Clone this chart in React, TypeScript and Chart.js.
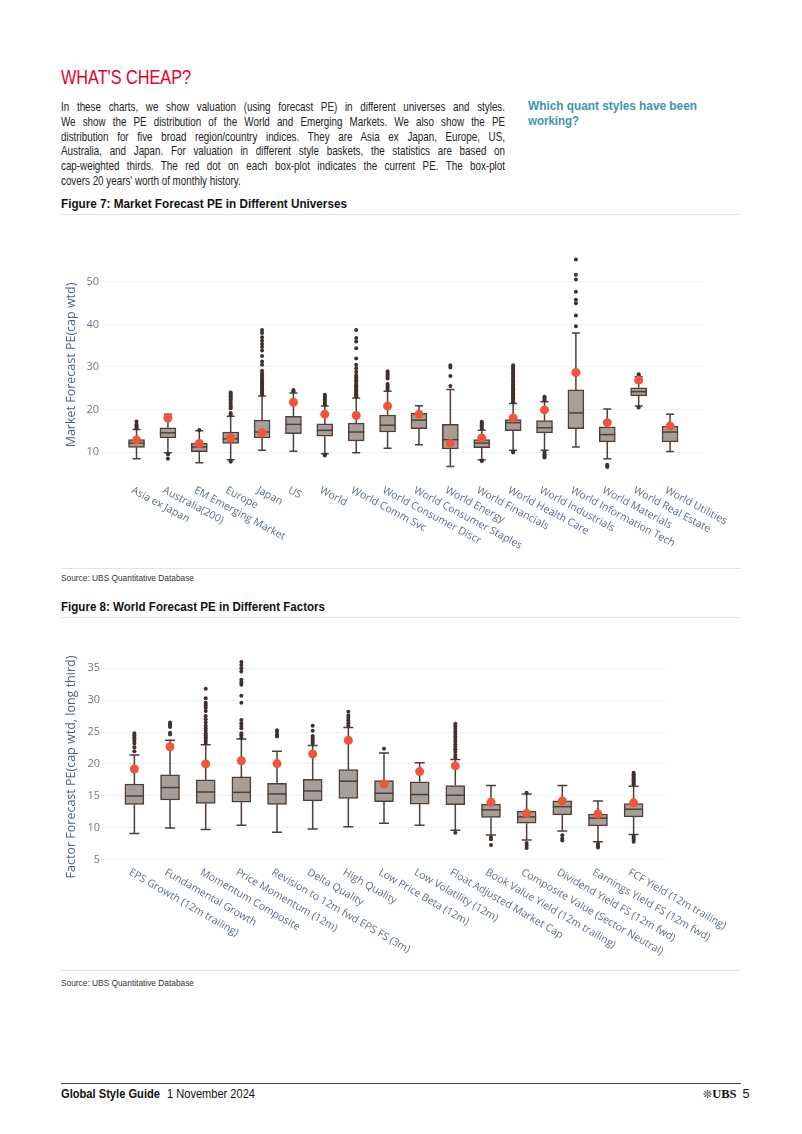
import React, { useEffect, useLayoutEffect, useRef } from 'react';
import { Chart, registerables } from 'chart.js';
Chart.register(...registerables);

// ---------- Figure 7 data ----------
const universeLabels = [
  'Asia ex Japan', 'Australia(200)', 'EM Emerging Market', 'Europe', 'Japan', 'US', 'World',
  'World Comm Svc', 'World Consumer Discr', 'World Consumer Staples', 'World Energy',
  'World Financials', 'World Health Care', 'World Industrials', 'World Information Tech',
  'World Materials', 'World Real Estate', 'World Utilities',
];
const uLow = [8.4, 9.8, 7.5, 8.2, 10.4, 10.2, 9.6, 9.8, 10.9, 11.7, 6.6, 8.2, 10.4, 10.4, 11.2, 8.4, 20.8, 10.1];
const uQ1 = [11.1, 13.3, 10.1, 12.0, 13.3, 14.3, 13.7, 12.6, 14.7, 15.5, 10.7, 11.0, 15.0, 14.5, 15.5, 12.4, 23.2, 12.4];
const uMedian = [12.1, 14.5, 11.2, 13.1, 14.7, 16.5, 15.1, 14.7, 16.3, 17.5, 12.9, 12.1, 16.9, 15.7, 19.2, 14.1, 24.2, 14.7];
const uQ3 = [12.9, 15.7, 12.1, 14.7, 17.5, 18.4, 16.6, 16.8, 18.7, 19.1, 16.5, 12.9, 17.6, 17.4, 24.6, 15.9, 25.1, 16.1];
const uHigh = [15.3, 18.9, 15.0, 18.4, 23.2, 23.9, 20.8, 22.7, 24.3, 20.9, 24.7, 15.1, 21.4, 21.8, 38.0, 20.1, 27.7, 18.9];
const uCurrent = [12.8, 18.0, 12.0, 13.3, 14.5, 21.7, 18.9, 18.6, 20.8, 18.9, 12.0, 13.3, 18.0, 19.9, 28.7, 16.9, 26.9, 16.1];
const uOutliers: number[][] = [
  [15.6, 15.9, 16.2, 16.5, 17.2],
  [9.6, 9.4, 8.4],
  [15.2],
  [18.8, 19.2, 20.3, 20.6, 20.9, 21.5, 22.0, 22.4, 22.8, 23.1, 23.4, 23.7, 24.0, 7.9, 7.7],
  [23.5, 23.8, 24.1, 24.4, 24.7, 25.0, 25.3, 25.6, 25.9, 26.2, 26.5, 26.8, 27.1, 27.5, 28.0, 28.5, 29.1, 30.5, 31.3, 32.6, 33.9, 34.7, 35.4, 36.2, 37.0, 38.0, 38.7],
  [24.3, 24.6],
  [21.2, 21.6, 22.0, 22.4, 22.8, 23.2, 23.5, 9.4, 9.2],
  [23.0, 23.3, 23.6, 23.9, 24.2, 24.5, 24.8, 25.1, 25.4, 25.7, 26.0, 26.5, 26.9, 27.3, 27.7, 28.1, 28.9, 29.7, 30.5, 32.0, 34.4, 36.0, 36.8, 38.7],
  [24.7, 25.2, 25.6, 26.0, 27.3, 27.7, 28.1, 28.5, 29.0],
  [],
  [25.5, 27.9, 29.9, 30.4],
  [15.4, 15.7, 16.0, 16.3, 16.6, 16.9, 17.1, 8.0, 7.9],
  [21.7, 22.0, 22.3, 22.6, 22.9, 23.2, 23.5, 23.8, 24.1, 24.4, 24.7, 25.0, 25.3, 25.6, 25.9, 26.3, 26.6, 26.9, 27.3, 27.7, 28.1, 28.5, 28.9, 29.3, 29.7, 30.0, 30.4, 10.1, 9.9],
  [22.2, 22.5, 22.8, 23.0, 10.0, 9.5, 9.2, 8.9, 8.7],
  [39.6, 42.1, 45.0, 45.8, 47.7, 50.6, 51.7, 55.3],
  [7.0, 6.7, 6.5],
  [28.0, 28.3, 20.5],
  [],
];
const uTicks = [10, 20, 30, 40, 50];

// ---------- Figure 8 data ----------
const factorLabels = [
  'EPS Growth (12m trailing)', 'Fundamental Growth', 'Momentum Composite', 'Price Momentum (12m)',
  'Revision to 12m fwd EPS FS (3m)', 'Delta Quality', 'High Quality', 'Low Price Beta (12m)',
  'Low Volatility (12m)', 'Float Adjusted Market Cap', 'Book Value Yield (12m trailing)',
  'Composite Value (Sector Neutral)', 'Dividend Yield FS (12m fwd)', 'Earnings Yield FS (12m fwd)',
  'FCF Yield (12m trailing)',
];
const fLow = [9.1, 9.95, 9.7, 10.4, 9.27, 9.8, 10.16, 10.7, 10.4, 9.6, 8.85, 8.06, 9.5, 7.8, 8.95];
const fQ1 = [13.66, 14.35, 13.8, 14.0, 13.66, 14.2, 14.6, 14.1, 13.7, 13.6, 11.6, 10.7, 12.0, 10.3, 11.7];
const fMedian = [14.97, 16.3, 15.6, 15.55, 15.3, 15.76, 17.3, 15.4, 15.2, 15.1, 12.8, 11.7, 13.3, 11.5, 12.9];
const fQ3 = [16.86, 18.3, 17.5, 17.96, 16.96, 17.6, 19.1, 17.4, 17.2, 16.6, 13.7, 12.6, 14.2, 12.15, 13.8];
const fHigh = [21.4, 23.7, 23.0, 23.9, 22.0, 22.9, 25.7, 21.7, 20.2, 20.7, 16.6, 15.3, 16.6, 14.2, 16.5];
const fCurrent = [19.2, 22.7, 20.0, 20.5, 20.05, 21.57, 23.7, 16.86, 18.8, 19.7, 14.0, 12.25, 14.2, 12.15, 13.9];
const fOutliers: number[][] = [
  [22.0, 22.6, 23.2, 23.6, 23.9, 24.2, 24.5, 24.8],
  [24.6, 24.9, 25.8, 26.0, 26.2, 26.5],
  [23.3, 23.6, 23.9, 24.2, 24.5, 24.8, 25.2, 25.6, 26.0, 26.5, 27.0, 27.5, 28.3, 28.8, 29.2, 29.6, 30.3, 31.8],
  [24.1, 24.5, 24.8, 25.6, 26.0, 26.4, 26.9, 29.6, 30.7, 32.4, 32.8, 33.2, 34.5, 35.0, 35.5, 36.0],
  [24.3, 24.6, 25.0, 25.3],
  [23.2, 23.5, 23.8, 24.1, 24.4, 25.2, 26.0],
  [26.0, 26.4, 26.8, 27.2, 27.6, 28.2],
  [22.4],
  [],
  [21.0, 21.4, 21.9, 22.3, 22.7, 23.1, 23.5, 23.9, 24.3, 24.7, 25.1, 25.5, 25.9, 26.3, 9.2],
  [8.5, 8.2, 7.3],
  [15.5, 7.6, 7.2, 6.8],
  [8.8, 8.3, 8.0],
  [7.5, 7.2, 6.9],
  [16.8, 17.0, 17.2, 17.4, 17.6, 17.8, 18.0, 18.2, 18.4, 18.6, 8.7, 8.4, 8.1, 7.8],
];
const fTicks = [5, 10, 15, 20, 25, 30, 35];

// ---------- styles ----------
const BOX_FILL = '#a79e98';
const BOX_LINE = '#4e3f38';
const OUT_COLOR = '#3f312b';
const RED = '#f0563b';
const GRID = '#eef0f3';
const TICK_COLOR = '#69778f';
const TITLE_COLOR = '#4d5f80';
const XLAB_COLOR = '#5c6d8d';
const TXT_FONT = '"Liberation Sans", Arial, sans-serif';

type BoxCfg = {
  labels: string[]; low: number[]; q1: number[]; med: number[]; q3: number[]; high: number[];
  current: number[]; outliers: number[][]; ticks: number[]; yTitle: string;
  yMin: number; yMax: number; xMin: number; xMax: number;
  left: number; top: number; width: number; height: number;
  padTop: number; padRight: number; yAxisWidth: number; xAxisHeight: number;
  boxWidth: number; capWidth: number; labelAngle: number; labelOffset: number; labelFont: number;
  dotR: number; outR: number;
};

function BoxChart({ cfg }: { cfg: BoxCfg }) {
  const ref = useRef<HTMLCanvasElement>(null);
  useEffect(() => {
    if (!ref.current) return;
    const boxPlugin = {
      id: 'boxparts',
      beforeDatasetsDraw(chart: any) {
        const { ctx } = chart;
        const xs = chart.scales.x, ys = chart.scales.y;
        ctx.save();
        ctx.strokeStyle = BOX_LINE;
        ctx.lineWidth = 1.5;
        cfg.labels.forEach((_, i) => {
          const x = xs.getPixelForValue(i);
          const yl = ys.getPixelForValue(cfg.low[i]);
          const yh = ys.getPixelForValue(cfg.high[i]);
          const y1 = ys.getPixelForValue(cfg.q1[i]);
          const y3 = ys.getPixelForValue(cfg.q3[i]);
          const c = cfg.capWidth / 2;
          ctx.beginPath();
          ctx.moveTo(x, y3); ctx.lineTo(x, yh);
          ctx.moveTo(x, y1); ctx.lineTo(x, yl);
          ctx.moveTo(x - c, yh); ctx.lineTo(x + c, yh);
          ctx.moveTo(x - c, yl); ctx.lineTo(x + c, yl);
          ctx.stroke();
        });
        ctx.restore();
      },
      afterDatasetDraw(chart: any, args: any) {
        if (args.meta.type !== 'bar') return;
        const { ctx } = chart;
        const xs = chart.scales.x, ys = chart.scales.y;
        ctx.save();
        ctx.strokeStyle = BOX_LINE;
        ctx.lineWidth = 1.5;
        cfg.labels.forEach((_, i) => {
          const x = xs.getPixelForValue(i);
          const ym = ys.getPixelForValue(cfg.med[i]);
          const h = cfg.boxWidth / 2;
          ctx.beginPath();
          ctx.moveTo(x - h, ym); ctx.lineTo(x + h, ym);
          ctx.stroke();
        });
        ctx.restore();
      },
      afterDraw(chart: any) {
        const { ctx } = chart;
        const xs = chart.scales.x;
        const y0 = chart.chartArea.bottom + cfg.labelOffset;
        ctx.save();
        ctx.font = `${cfg.labelFont}px "Open Sans"`;
        ctx.fillStyle = XLAB_COLOR;
        ctx.textAlign = 'left';
        ctx.textBaseline = 'top';
        cfg.labels.forEach((l, i) => {
          const x = xs.getPixelForValue(i);
          ctx.save();
          ctx.translate(x - 2, y0);
          ctx.rotate((cfg.labelAngle * Math.PI) / 180);
          ctx.fillText(l, 0, 0);
          ctx.restore();
        });
        ctx.restore();
      },
    };
    const chart = new Chart(ref.current, {
      type: 'bar',
      data: {
        datasets: [
          {
            type: 'scatter',
            data: cfg.current.map((v, i) => ({ x: i, y: v })),
            backgroundColor: RED, borderColor: RED, pointRadius: cfg.dotR, pointBorderWidth: 0, order: 0,
          } as any,
          {
            type: 'scatter',
            data: cfg.outliers.flatMap((arr, i) => arr.map((v) => ({ x: i, y: v }))),
            backgroundColor: OUT_COLOR, borderColor: OUT_COLOR, pointRadius: cfg.outR, pointBorderWidth: 0, order: 1,
          } as any,
          {
            type: 'bar',
            data: cfg.q1.map((v, i) => ({ x: i, y: [v, cfg.q3[i]] })),
            backgroundColor: BOX_FILL, borderColor: BOX_LINE, borderWidth: 1.5, borderSkipped: false,
            barThickness: cfg.boxWidth, order: 2,
          } as any,
        ],
      },
      options: {
        responsive: false,
        animation: false,
        events: [],
        layout: { padding: { top: cfg.padTop, right: cfg.padRight, bottom: 0, left: 0 } },
        plugins: { legend: { display: false }, tooltip: { enabled: false } },
        scales: {
          x: {
            type: 'linear', min: cfg.xMin, max: cfg.xMax, offset: false, bounds: 'data',
            grid: { display: false }, border: { display: false }, ticks: { display: false },
            afterFit: (s: any) => { s.height = cfg.xAxisHeight; },
          },
          y: {
            type: 'linear', min: cfg.yMin, max: cfg.yMax, beginAtZero: false, bounds: 'data',
            afterBuildTicks: (s: any) => { s.ticks = cfg.ticks.map((v) => ({ value: v })); },
            grid: { color: GRID, drawTicks: false, lineWidth: 1 },
            border: { display: false },
            ticks: { color: TICK_COLOR, font: { family: 'Open Sans', size: 11 }, padding: 3 },
            title: {
              display: true, text: cfg.yTitle, color: TITLE_COLOR,
              font: { family: 'Open Sans', size: 12.5 }, padding: { top: 4, bottom: 4 },
            },
            afterFit: (s: any) => { s.width = cfg.yAxisWidth; },
          },
        },
      } as any,
      plugins: [boxPlugin],
    });
    return () => chart.destroy();
  }, []);
  return (
    <canvas
      ref={ref}
      width={cfg.width}
      height={cfg.height}
      style={{ position: 'absolute', left: cfg.left, top: cfg.top, width: cfg.width, height: cfg.height }}
    />
  );
}

const chart1: BoxCfg = {
  labels: universeLabels, low: uLow, q1: uQ1, med: uMedian, q3: uQ3, high: uHigh,
  current: uCurrent, outliers: uOutliers, ticks: uTicks, yTitle: 'Market Forecast PE(cap wtd)',
  yMin: 4.59, yMax: 56.35, xMin: -1.1, xMax: 18.05,
  left: 60, top: 245, width: 740, height: 322, padTop: 10, padRight: 97, yAxisWidth: 42, xAxisHeight: 92,
  boxWidth: 16, capWidth: 8, labelAngle: 28, labelOffset: 10, labelFont: 10.5, dotR: 4.5, outR: 2,
};

const chart2: BoxCfg = {
  labels: factorLabels, low: fLow, q1: fQ1, med: fMedian, q3: fQ3, high: fHigh,
  current: fCurrent, outliers: fOutliers, ticks: fTicks, yTitle: 'Factor Forecast PE(cap wtd, long third)',
  yMin: 1.8, yMax: 37.24, xMin: -0.88, xMax: 14.88,
  left: 60, top: 640, width: 740, height: 328, padTop: 14, padRight: 135, yAxisWidth: 43, xAxisHeight: 88,
  boxWidth: 19, capWidth: 10, labelAngle: 30, labelOffset: -13, labelFont: 10.5, dotR: 4.5, outR: 2,
};

const bodyLines = [
  'In these charts, we show valuation (using forecast PE) in different universes and styles.',
  'We show the PE distribution of the World and Emerging Markets. We also show the PE',
  'distribution for five broad region/country indices. They are Asia ex Japan, Europe, US,',
  'Australia, and Japan. For valuation in different style baskets, the statistics are based on',
  'cap-weighted thirds. The red dot on each box-plot indicates the current PE. The box-plot',
  "covers 20 years' worth of monthly history.",
];

// Text squeezed horizontally to a target width (condensed look)
function Fit({ left, top, width, size, weight, color, lh = 16, children }: any) {
  const ref = useRef<HTMLSpanElement>(null);
  useLayoutEffect(() => {
    const el = ref.current;
    if (!el) return;
    el.style.transform = 'none';
    const w = el.getBoundingClientRect().width;
    if (w > 0) el.style.transform = `scaleX(${width / w})`;
  }, []);
  return (
    <span
      ref={ref}
      style={{
        position: 'absolute', left, top, display: 'inline-block', whiteSpace: 'nowrap', transformOrigin: '0 0',
        fontSize: size, lineHeight: lh + 'px', fontFamily: TXT_FONT, fontWeight: weight || 'normal',
        color: color || '#222',
      }}
    >
      {children}
    </span>
  );
}

// Justified body line: fixed horizontal squeeze, word spacing fills the width
const BODY_SCALE = 0.78;
function JLine({ left, top, width, justify, children }: any) {
  const ref = useRef<HTMLSpanElement>(null);
  useLayoutEffect(() => {
    const el = ref.current;
    if (!el || !justify) return;
    el.style.wordSpacing = '0px';
    const w = el.getBoundingClientRect().width / BODY_SCALE;
    const n = (String(children).match(/ /g) || []).length;
    if (n > 0) el.style.wordSpacing = `${(width / BODY_SCALE - w) / n}px`;
  }, []);
  return (
    <span
      ref={ref}
      style={{
        position: 'absolute', left, top, display: 'inline-block', whiteSpace: 'nowrap', transformOrigin: '0 0',
        transform: `scaleX(${BODY_SCALE})`, fontSize: 12.6, lineHeight: '16px', fontFamily: TXT_FONT, color: '#222',
      }}
    >
      {children}
    </span>
  );
}

function Rule({ top, color = '#e2e2e2' }: { top: number; color?: string }) {
  return <div style={{ position: 'absolute', left: 61, top, width: 680, height: 1, background: color }} />;
}

export default function App() {
  return (
    <div
      style={{
        position: 'absolute', left: 0, top: 0, width: 802, height: 1134, background: '#fff', overflow: 'hidden',
      }}
    >
      <Fit left={61} top={66} width={130} size={19.5} lh={22} color="#e4002b">WHAT'S CHEAP?</Fit>
      {bodyLines.map((l, k) => (
        <JLine key={k} left={61} top={99 + k * 14.8} width={444} justify={k < 5}>{l}</JLine>
      ))}
      <Fit left={528} top={98} width={169} size={12.8} weight="bold" color="#3f93ad">Which quant styles have been</Fit>
      <Fit left={528} top={113} width={51} size={12.8} weight="bold" color="#3f93ad">working?</Fit>

      <Fit left={61} top={196} width={286} size={12.6} weight="bold" color="#111">
        Figure 7: Market Forecast PE in Different Universes
      </Fit>
      <Rule top={214} />
      <BoxChart cfg={chart1} />
      <Rule top={568} />
      <Fit left={61} top={570} width={133} size={9.5} color="#333">Source: UBS Quantitative Database</Fit>

      <Fit left={61} top={599} width={264} size={12.6} weight="bold" color="#111">
        Figure 8: World Forecast PE in Different Factors
      </Fit>
      <Rule top={617} />
      <BoxChart cfg={chart2} />
      <Rule top={970} />
      <Fit left={61} top={975} width={133} size={9.5} color="#333">Source: UBS Quantitative Database</Fit>

      <Rule top={1083} color="#444" />
      <Fit left={61} top={1086} width={99} size={12.4} weight="bold" color="#111">Global Style Guide</Fit>
      <Fit left={167} top={1086} width={88} size={12.4} color="#111">1 November 2024</Fit>
      <div
        style={{
          position: 'absolute', left: 703, top: 1086, height: 16, lineHeight: '16px', whiteSpace: 'nowrap',
          fontSize: 12.5, color: '#111',
        }}
      >
        <span style={{ fontFamily: '"DejaVu Sans", sans-serif', fontSize: 11 }}>❊</span>
        <span style={{ fontFamily: '"Liberation Serif", serif', fontWeight: 'bold' }}>UBS</span>
        <span style={{ fontFamily: TXT_FONT, marginLeft: 6 }}>5</span>
      </div>
    </div>
  );
}
